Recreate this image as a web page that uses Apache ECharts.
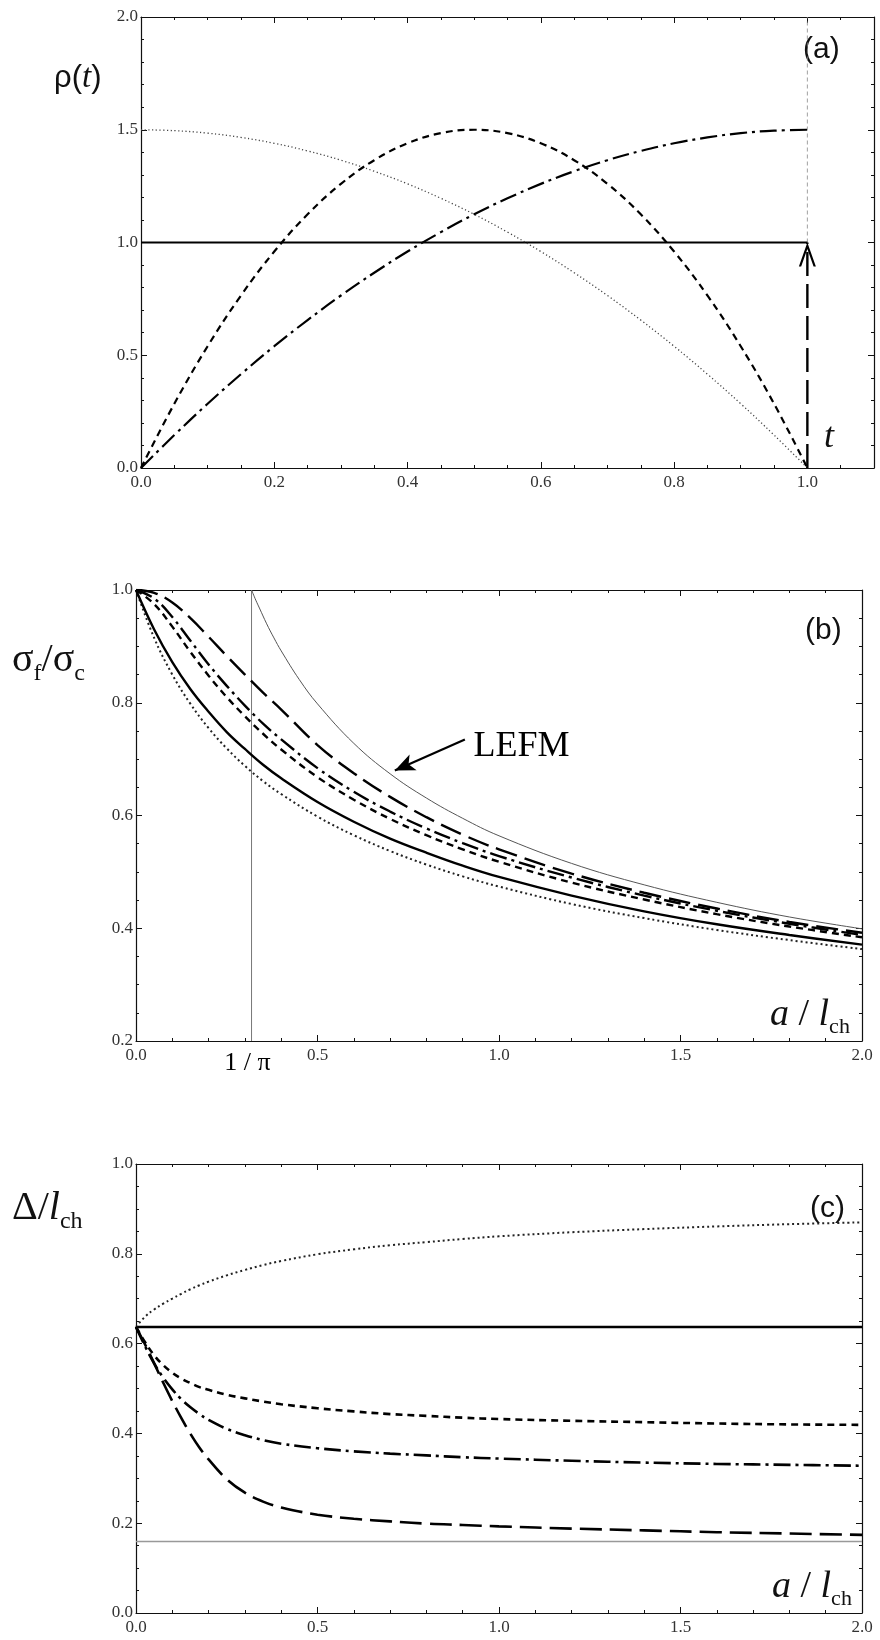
<!DOCTYPE html>
<html>
<head>
<meta charset="utf-8">
<script src="https://cdn.jsdelivr.net/npm/echarts@6/dist/echarts.min.js"></script>
<style>
html,body{margin:0;padding:0;background:#fff;}
#chart{width:880px;height:1640px;}
</style>
</head>
<body>
<div id="chart"></div>
<script>
// ---------- Panel (a): cohesive laws rho(t) ----------
const tA = [0,0.05,0.1,0.15,0.2,0.25,0.3,0.35,0.4,0.45,0.5,0.55,0.6,0.65,0.7,0.75,0.8,0.85,0.9,0.95,1.0];
const rhoDecreasing = [1.5,1.496,1.485,1.466,1.44,1.406,1.365,1.316,1.26,1.196,1.125,1.046,0.96,0.866,0.765,0.656,0.54,0.416,0.285,0.146,0];
const rhoParabolic  = [0,0.285,0.54,0.765,0.96,1.125,1.26,1.365,1.44,1.485,1.5,1.485,1.44,1.365,1.26,1.125,0.96,0.765,0.54,0.285,0];
const rhoIncreasing = [0,0.146,0.285,0.416,0.54,0.656,0.765,0.866,0.96,1.046,1.125,1.196,1.26,1.316,1.365,1.406,1.44,1.466,1.485,1.496,1.5];
const tUniform = [0,1];
const rhoUniform = [1,1];
const tDelta = [1,1];
const rhoDelta = [0,1];
const tGuide = [1,1];
const rhoGuide = [1,2];

// ---------- Panel (b): sigma_f / sigma_c vs a / l_ch ----------
const aB = [0,0.05,0.1,0.15,0.2,0.25,0.3,0.35,0.4,0.5,0.6,0.7,0.8,0.9,1.0,1.2,1.4,1.6,1.8,2.0];
const sigDotted   = [1,0.915,0.85,0.798,0.755,0.719,0.688,0.661,0.638,0.598,0.565,0.537,0.513,0.492,0.474,0.443,0.418,0.397,0.379,0.363];
const sigSolid    = [1,0.93,0.872,0.824,0.784,0.748,0.718,0.69,0.666,0.624,0.589,0.559,0.534,0.511,0.491,0.458,0.43,0.407,0.388,0.371];
const sigShort    = [1,0.975,0.935,0.89,0.848,0.81,0.776,0.745,0.717,0.668,0.628,0.594,0.565,0.54,0.518,0.481,0.451,0.425,0.403,0.384];
const sigDashDot  = [1,0.985,0.952,0.91,0.868,0.83,0.795,0.763,0.735,0.684,0.642,0.607,0.577,0.551,0.528,0.49,0.458,0.431,0.408,0.388];
const sigLongDash = [1,0.995,0.978,0.95,0.917,0.883,0.85,0.818,0.788,0.725,0.675,0.633,0.597,0.566,0.54,0.497,0.463,0.435,0.411,0.392];
const aLEFM   = [0.3183,0.33,0.34,0.36,0.38,0.4,0.45,0.5,0.6,0.7,0.8,0.9,1.0,1.2,1.4,1.6,1.8,2.0];
const sigLEFM = [1.0,0.982,0.968,0.940,0.915,0.892,0.841,0.798,0.728,0.674,0.631,0.595,0.564,0.515,0.477,0.446,0.420,0.399];
const aInvPi = [0.3183,0.3183];
const sigInvPi = [0.2,1.0];
const lefmArrowA = [0.906,0.713];
const lefmArrowS = [0.735,0.68];
const lefmLabelPos = [0.93,0.723];

// ---------- Panel (c): Delta / l_ch vs a / l_ch ----------
const aC = [0,0.025,0.05,0.075,0.1,0.125,0.15,0.175,0.2,0.25,0.3,0.35,0.4,0.5,0.6,0.7,0.8,0.9,1.0,1.2,1.4,1.6,1.8,2.0];
const dDotted   = [0.637,0.66,0.676,0.689,0.70,0.711,0.721,0.73,0.738,0.752,0.764,0.775,0.784,0.799,0.81,0.819,0.826,0.833,0.839,0.848,0.855,0.861,0.866,0.87];
const dShort    = [0.637,0.603,0.574,0.552,0.535,0.522,0.512,0.503,0.497,0.486,0.478,0.471,0.465,0.456,0.449,0.443,0.439,0.435,0.432,0.428,0.425,0.422,0.42,0.419];
const dDashDot  = [0.637,0.594,0.556,0.524,0.498,0.476,0.458,0.443,0.43,0.41,0.396,0.385,0.377,0.367,0.36,0.355,0.351,0.347,0.344,0.339,0.335,0.332,0.33,0.328];
const dLongDash = [0.637,0.598,0.556,0.513,0.472,0.434,0.399,0.368,0.342,0.298,0.268,0.248,0.235,0.219,0.21,0.204,0.199,0.196,0.193,0.188,0.184,0.18,0.177,0.174];
const aFlat = [0,2];
const dUniform = [0.637,0.637];
const dLimit = [0.159,0.159];

// tick label texts
const tickFmt = v => (Math.abs(v - 1.1) < 1e-9) ? '' : v.toFixed(1);

// ---------- styles ----------
const BLACK = '#000';
const DASH_SHORT = [7,5];
const DASH_DOT = [17,5,3,5];
const DASH_LONG = [22,8];
const SERIF = 'Liberation Serif';
const SANS = 'Liberation Sans';

function pts(xs, ys){ return xs.map((x,i)=>[x, ys[i]]); }
function ln(name, xs, ys, gi, style, extra){
  return Object.assign({
    name, type:'line', xAxisIndex: gi*2, yAxisIndex: gi*2,
    data: pts(xs, ys), showSymbol:false, symbol:'none',
    smooth: 0.4,
    lineStyle: Object.assign({color:BLACK, width:2.4, type:'solid'}, style),
    z: 5, silent: true
  }, extra || {});
}

function xAxes(gi, min, max, interval, minorSplit){
  const common = {gridIndex:gi, type:'value', min, max, interval,
    axisLine:{show:true, onZero:false, lineStyle:{color:'#111', width:1.2}},
    splitLine:{show:false}, minorSplitLine:{show:false},
    axisTick:{show:true, inside:true, length:6, lineStyle:{color:'#111', width:1}},
    minorTick:{show:true, splitNumber:minorSplit, length:3, lineStyle:{color:'#111', width:1}}};
  return [
    Object.assign({}, common, {position:'bottom',
      axisLabel:{show:true, formatter:tickFmt, fontFamily:SERIF, fontSize:17, color:'#333', margin:6, showMaxLabel:true}}),
    Object.assign({}, common, {position:'top', axisLabel:{show:false}})
  ];
}
function yAxes(gi, min, max, interval, minorSplit){
  const common = {gridIndex:gi, type:'value', min, max, interval,
    axisLine:{show:true, onZero:false, lineStyle:{color:'#111', width:1.2}},
    splitLine:{show:false}, minorSplitLine:{show:false},
    axisTick:{show:true, inside:true, length:6, lineStyle:{color:'#111', width:1}},
    minorTick:{show:true, splitNumber:minorSplit, length:3, lineStyle:{color:'#111', width:1}}};
  return [
    Object.assign({}, common, {position:'left',
      axisLabel:{show:true, formatter:tickFmt, fontFamily:SERIF, fontSize:17, color:'#333', margin:3}}),
    Object.assign({}, common, {position:'right', axisLabel:{show:false}})
  ];
}

const chevron = 'path://M0,0 L8.5,24 L6.2,24 L0,6.5 L-6.2,24 L-8.5,24 Z';

const option = {
  backgroundColor:'#fff',
  animation:false,
  grid:[
    {left:141, top:17, width:733, height:451, outerBoundsMode:'none', show:false},
    {left:136, top:590, width:726, height:451, outerBoundsMode:'none', show:false},
    {left:136, top:1164, width:726, height:449, outerBoundsMode:'none', show:false}
  ],
  xAxis:[].concat(
    xAxes(0, 0, 1.1, 0.2, 4),
    xAxes(1, 0, 2, 0.5, 5),
    xAxes(2, 0, 2, 0.5, 5)
  ),
  yAxis:[].concat(
    yAxes(0, 0, 2, 0.5, 5),
    yAxes(1, 0.2, 1.0, 0.2, 4),
    yAxes(2, 0, 1, 0.2, 4)
  ),
  series:[
    // ----- (a)
    ln('guide', tGuide, rhoGuide, 0, {color:'#888', width:0.8, type:[4,3]}, {smooth:false}),
    ln('uniform', tUniform, rhoUniform, 0, {width:2.2}, {smooth:false}),
    ln('decreasing', tA, rhoDecreasing, 0, {color:'#444', width:1.3, type:[1.2,2.5]}),
    ln('parabolic', tA, rhoParabolic, 0, {width:2.2, type:DASH_SHORT}),
    ln('increasing', tA, rhoIncreasing, 0, {width:2.2, type:DASH_DOT}),
    {
      name:'delta', type:'line', xAxisIndex:0, yAxisIndex:0, smooth:false, silent:true, z:6,
      data:[{value:[tDelta[0], rhoDelta[0]], symbol:'none'},
            {value:[tDelta[1], rhoDelta[1]], symbol:chevron, symbolSize:[17,24], symbolOffset:[0,'50%']}],
      showSymbol:true, showAllSymbol:true,
      itemStyle:{color:BLACK},
      lineStyle:{color:BLACK, width:2.4, type:[24,8]}
    },
    // ----- (b)
    ln('invpi', aInvPi, sigInvPi, 1, {color:'#777', width:1}, {smooth:false}),
    ln('LEFM', aLEFM, sigLEFM, 1, {color:'#555', width:1}, {
      markLine:{silent:true, animation:false, symbol:['none','arrow'], symbolSize:[13,20],
        label:{show:false}, lineStyle:{color:BLACK, width:2.2, type:'solid'},
        data:[[{coord:[lefmArrowA[0], lefmArrowS[0]]},{coord:[lefmArrowA[1], lefmArrowS[1]]}]]}
    }),
    ln('dotted', aB, sigDotted, 1, {color:'#222', width:2, type:[2,3]}),
    ln('solid', aB, sigSolid, 1, {width:2.4}),
    ln('short', aB, sigShort, 1, {width:2.4, type:DASH_SHORT}),
    ln('dashdot', aB, sigDashDot, 1, {width:2.4, type:DASH_DOT}),
    ln('longdash', aB, sigLongDash, 1, {width:2.4, type:DASH_LONG}),
    {
      name:'lefmLabel', type:'scatter', xAxisIndex:2, yAxisIndex:2, silent:true, symbolSize:0,
      itemStyle:{opacity:1, color:'#000'},
      data:[lefmLabelPos],
      label:{show:true, formatter:'LEFM', position:'right', distance:0, fontFamily:SERIF, fontSize:36, color:'#000', opacity:1}
    },
    {
      name:'invPiLabel', type:'scatter', xAxisIndex:2, yAxisIndex:2, silent:true, symbolSize:0, clip:false,
      itemStyle:{opacity:1, color:'#000'},
      data:[[aInvPi[0], sigInvPi[0]]],
      label:{show:true, formatter:'1 / π', position:'bottom', distance:9, fontFamily:SERIF, fontSize:26, color:'#000', opacity:1, offset:[-4,0]}
    },
    // ----- (c)
    ln('limit', aFlat, dLimit, 2, {color:'#999', width:1.5}, {smooth:false}),
    ln('uniformC', aFlat, dUniform, 2, {width:2.6}, {smooth:false}),
    ln('dottedC', aC, dDotted, 2, {color:'#222', width:2, type:[2,3]}),
    ln('shortC', aC, dShort, 2, {width:2.6, type:DASH_SHORT}),
    ln('dashdotC', aC, dDashDot, 2, {width:2.6, type:DASH_DOT}),
    ln('longdashC', aC, dLongDash, 2, {width:2.6, type:DASH_LONG})
  ],
  graphic:[
    {type:'text', left:54, top:62, style:{text:'{r|ρ(}{t|t}{r|)}', rich:{
      r:{fontFamily:SANS, fontSize:31, fill:'#111'},
      t:{fontFamily:SERIF, fontStyle:'italic', fontSize:33, fill:'#111'}}}},
    {type:'text', left:803, top:35, style:{text:'(a)', fontFamily:SANS, fontSize:30, fill:'#111'}},
    {type:'text', left:824, top:420, style:{text:'t', fontFamily:SERIF, fontStyle:'italic', fontSize:36, fill:'#111'}},

    {type:'text', left:12, top:640, style:{text:'{s|σ}{f|f}{s|/σ}{f|c}', rich:{
      s:{fontFamily:SERIF, fontSize:40, fill:'#111', verticalAlign:'top', lineHeight:44},
      f:{fontFamily:SERIF, fontSize:24, fill:'#111', verticalAlign:'top', lineHeight:44, padding:[22,0,0,0]}}}},
    {type:'text', left:805, top:616, style:{text:'(b)', fontFamily:SANS, fontSize:30, fill:'#111'}},
    {type:'text', left:770, top:996, style:{text:'{a|a}{s| / }{a|l}{c|ch}', rich:{
      a:{fontFamily:SERIF, fontStyle:'italic', fontSize:38, fill:'#111', verticalAlign:'top', lineHeight:42},
      s:{fontFamily:SERIF, fontSize:38, fill:'#111', verticalAlign:'top', lineHeight:42},
      c:{fontFamily:SERIF, fontSize:22, fill:'#111', verticalAlign:'top', lineHeight:42, padding:[20,0,0,0]}}}},

    {type:'text', left:12, top:1188, style:{text:'{s|Δ/}{a|l}{c|ch}', rich:{
      s:{fontFamily:SERIF, fontSize:40, fill:'#111', verticalAlign:'top', lineHeight:44},
      a:{fontFamily:SERIF, fontStyle:'italic', fontSize:40, fill:'#111', verticalAlign:'top', lineHeight:44},
      c:{fontFamily:SERIF, fontSize:24, fill:'#111', verticalAlign:'top', lineHeight:44, padding:[22,0,0,0]}}}},
    {type:'text', left:810, top:1194, style:{text:'(c)', fontFamily:SANS, fontSize:30, fill:'#111'}},
    {type:'text', left:772, top:1568, style:{text:'{a|a}{s| / }{a|l}{c|ch}', rich:{
      a:{fontFamily:SERIF, fontStyle:'italic', fontSize:38, fill:'#111', verticalAlign:'top', lineHeight:42},
      s:{fontFamily:SERIF, fontSize:38, fill:'#111', verticalAlign:'top', lineHeight:42},
      c:{fontFamily:SERIF, fontSize:22, fill:'#111', verticalAlign:'top', lineHeight:42, padding:[20,0,0,0]}}}}
  ]
};

const chart = echarts.init(document.getElementById('chart'), null, {renderer:'canvas'});
chart.setOption(option);
</script>
</body>
</html>
